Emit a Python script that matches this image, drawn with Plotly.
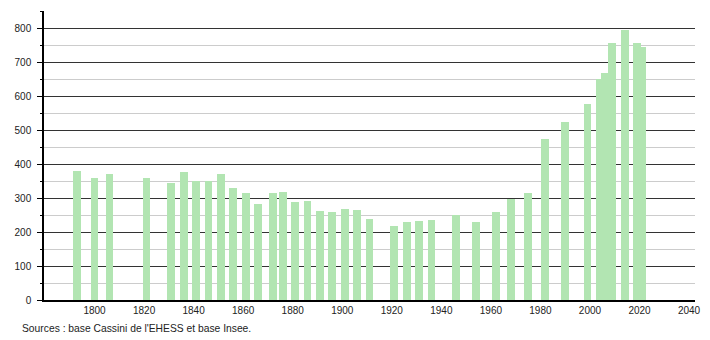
import plotly.graph_objects as go

years = [1793, 1800, 1806, 1821, 1831, 1836, 1841, 1846, 1851, 1856, 1861, 1866,
         1872, 1876, 1881, 1886, 1891, 1896, 1901, 1906, 1911, 1921, 1926, 1931,
         1936, 1946, 1954, 1962, 1968, 1975, 1982, 1990, 1999, 2004, 2006, 2009,
         2014, 2019, 2021]
population = [380, 360, 371, 360, 345, 378, 350, 349, 371, 331, 316, 282,
              316, 319, 290, 292, 262, 259, 268, 265, 238, 218, 231, 234,
              236, 249, 230, 259, 296, 315, 473, 524, 577, 650, 667, 758,
              795, 758, 744]
x_ticks = [1800, 1820, 1840, 1860, 1880, 1900, 1920, 1940, 1960, 1980, 2000, 2020, 2040]
y_ticks = [0, 100, 200, 300, 400, 500, 600, 700, 800]
source_text = "Sources : base Cassini de l'EHESS et base Insee."

fig = go.Figure()
fig.add_trace(go.Bar(
    x=years, y=population, width=3.15,
    marker=dict(color="#b2e5b2", line=dict(width=0)),
    hoverinfo="x+y",
))

font = dict(family="Liberation Sans, Arial, sans-serif", size=10, color="#222222")

fig.update_layout(
    width=710, height=340,
    margin=dict(l=44, r=9, t=11, b=40),
    plot_bgcolor="white", paper_bgcolor="white",
    showlegend=False, bargap=0,
    font=font,
    xaxis=dict(
        range=[1779.6, 2042.4],
        tickvals=x_ticks, ticktext=[str(v) for v in x_ticks],
        showgrid=False, zeroline=False,
        showline=True, linecolor="black", linewidth=1.5,
        ticks="", tickfont=font,
    ),
    yaxis=dict(
        range=[0, 851],
        tickvals=y_ticks, ticktext=[str(v) for v in y_ticks],
        showgrid=True, gridcolor="#333333", gridwidth=1,
        zeroline=False,
        showline=True, linecolor="black", linewidth=1.5,
        ticks="outside", ticklen=5, tickcolor="black", tickwidth=1,
        ticklabelstandoff=4,
        tickfont=font,
        minor=dict(dtick=50, tick0=50, showgrid=True, gridcolor="#cccccc",
                   gridwidth=1, ticks="outside", ticklen=2, tickcolor="black"),
    ),
    annotations=[dict(
        text=source_text, xref="paper", yref="paper",
        x=-24 / 657, y=(300 - 328) / 289, xanchor="left", yanchor="middle",
        showarrow=False, font=dict(family="Liberation Sans, Arial, sans-serif",
                                   size=10.3, color="#222222"),
    )],
)

fig.write_html("out.html")
